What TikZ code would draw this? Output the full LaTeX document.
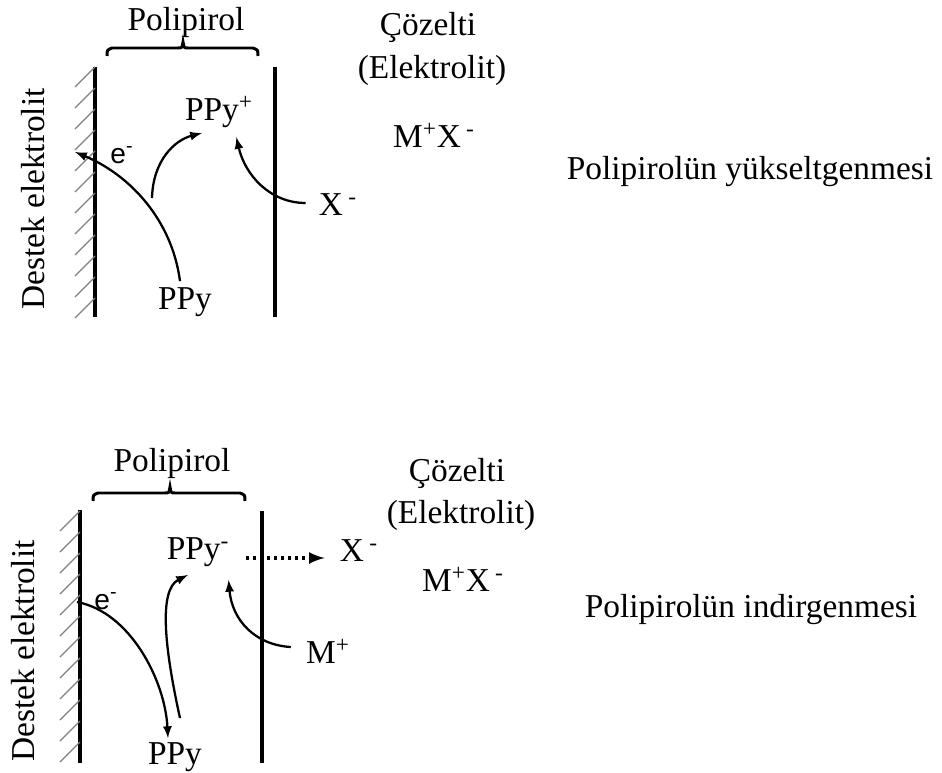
\documentclass[tikz,border=0pt]{standalone}
\usepackage{fontspec}
\setmainfont{Liberation Serif}
\newfontfamily\esans{Liberation Sans}
\usepackage{tikz}
\usetikzlibrary{positioning, calc}
\usetikzlibrary{arrows}

\begin{document}
\begin{tikzpicture}[x=0.02cm, y=-0.02cm, every node/.style={inner sep=0pt, font=\fontsize{19}{23}\selectfont}, wall/.style={line width=2pt}, hatch/.style={gray, line width=0.7pt}, flow/.style={-latex, line width=1.3pt}, lid/.style={line width=1.7pt}, small/.style={font=\esans\fontsize{16}{18}\selectfont}]

    \useasboundingbox (0,0) rectangle (942,773);

    % Parameters
    \def\hstep{21} % spacing of the hatch lines
    \def\hlen{20} % length of the hatch lines

    % Oxidation (upper panel)
    \node (pol1) at (186,22) {Polipirol};
    \node (coz1) at (428,27) {Çözelti};
    \node (elk1) at (432,70) {(Elektrolit)};
    \node (mx1) at (434,135) {M\textsuperscript{+}X\hspace{3pt}\textsuperscript{-}};
    \node (ppyp) at (219,112) {PPy\textsuperscript{+}};
    \node[small] (e1) at (122,155) {e\textsuperscript{-}};
    \node (x1) at (338,205) {X\hspace{3pt}\textsuperscript{-}};
    \node (ppy1) at (185,302) {PPy};
    \node[rotate=90] (dest1) at (33,199) {Destek elektrolit};
    \node (cap1) at (750,172) {Polipirolün yükseltgenmesi};

    % Electrode, film edge and hatching
    \draw[wall] (95,67) -- (95,317);
    \draw[wall, line width=2.8pt] (275,67) -- (275,317);
    \foreach \y in {67,88,...,298} {
        \draw[hatch] (95-\hlen,\y+\hlen) -- (95,\y);
    }
    \draw[lid] (107,56) .. controls (107,50) .. (112,48) -- (178,48) .. controls (182,48) .. (183,42) .. controls (184,48) .. (188,48) -- (253,48) .. controls (258,50) .. (258,56);

    % Draw arrows
    \coordinate (ea) at (75,152);
    \coordinate (br) at (152,198);
    \draw[flow] ($(ppy1.north)+(-5,-6)$) .. controls (172,220) and (130,175) .. (ea);
    \draw[flow] (br) .. controls (153,160) and (175,140) .. ($(ppyp.south)+(-17,5)$);
    \draw[flow] ($(x1.west)+(-13,-2)$) .. controls (270,203) and (245,175) .. ($(ppyp.south east)+(-17,9)$);

    % Reduction (lower panel)
    \node (pol2) at (172,463) {Polipirol};
    \node (coz2) at (457,473) {Çözelti};
    \node (elk2) at (461,515) {(Elektrolit)};
    \node (mx2) at (463,579) {M\textsuperscript{+}X\hspace{3pt}\textsuperscript{-}};
    \node (ppym) at (198,552) {PPy\textsuperscript{-}};
    \node (x2) at (359,551) {X\hspace{3pt}\textsuperscript{-}};
    \node[small] (e2) at (106,601) {e\textsuperscript{-}};
    \node (m2) at (328,651) {M\textsuperscript{+}};
    \node (ppy2) at (175,757) {PPy};
    \node[rotate=90] (dest2) at (23,651) {Destek elektrolit};
    \node (cap2) at (751,610) {Polipirolün indirgenmesi};

    % Electrode, film edge and hatching
    \draw[wall] (80,510) -- (80,763);
    \draw[wall] (262,511) -- (262,763);
    \foreach \y in {511,532,...,742} {
        \draw[hatch] (80-\hlen,\y+\hlen) -- (80,\y);
    }
    \draw[lid] (93,501) .. controls (93,495) .. (98,493) -- (165,493) .. controls (169,493) .. (170,487) .. controls (171,493) .. (175,493) -- (240,493) .. controls (245,495) .. (245,501);

    % Draw arrows
    \coordinate (eb) at (77,602);
    \draw[flow] (eb) .. controls (130,612) and (165,680) .. ($(ppy2.north)+(-7,-4)$);
    \draw[flow] ($(ppy2.north)+(5,-24)$) .. controls (165,650) and (158,590) .. ($(ppym.south)+(-10,8)$);
    \draw[flow] ($(m2.west)+(-15,-4)$) .. controls (255,645) and (232,620) .. ($(ppym.south east)+(-1,13)$);
    \draw[flow, line width=2pt, dash pattern=on 2pt off 2pt] ($(ppym.east)+(16,6)$) -- ($(x2.west)+(-15,7)$);

\end{tikzpicture}
\end{document}
